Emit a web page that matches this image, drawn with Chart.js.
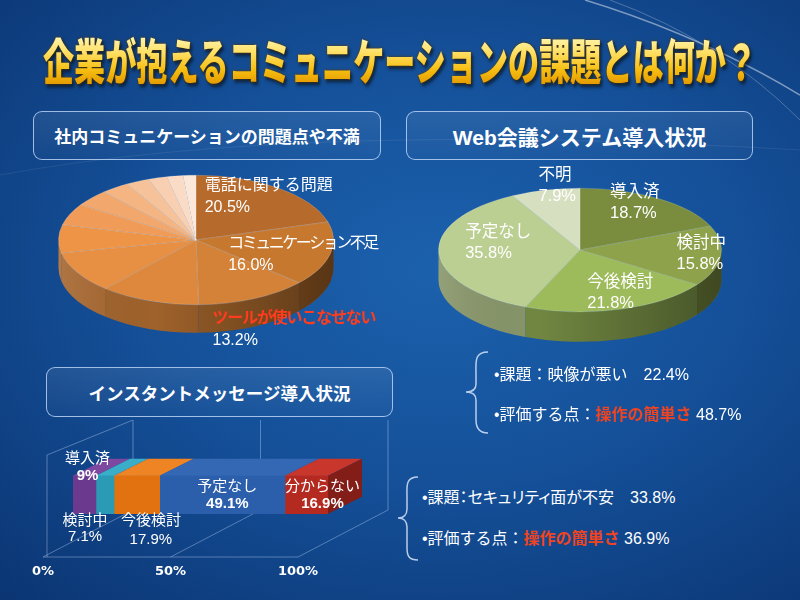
<!DOCTYPE html>
<html lang="ja">
<head>
<meta charset="utf-8">
<script src="https://cdn.jsdelivr.net/npm/chart.js@4.4.0/dist/chart.umd.min.js"></script>
<style>
html, body { margin: 0; padding: 0; }
body {
    width: 800px; height: 600px; overflow: hidden; position: relative;
    background: radial-gradient(ellipse 80% 75% at 55% 45%, #1c61ad 0%, #15519a 45%, #0b3573 100%);
    font-family: "Liberation Sans", "Noto Sans CJK JP", sans-serif;
    color: #fff;
}
.deco { position: absolute; left: 0; top: 0; }
.title {
    position: absolute; left: 0; top: 35px; width: 800px; text-align: center; white-space: nowrap;
    font-family: "Noto Sans CJK JP"; font-weight: 900; font-size: 34px; line-height: 1;
    transform: scale(0.915, 1.45); transform-origin: 50% 0;
}
.title span {
    display: inline-block;
    background: linear-gradient(#fff8b8 0%, #ffe066 35%, #f7bf12 70%, #e49a00 100%);
    -webkit-background-clip: text; background-clip: text; color: transparent;
    filter: drop-shadow(0 0 1px #5a3a00) drop-shadow(2px 2px 1px rgba(0, 0, 0, 0.55));
}
.box {
    position: absolute;
    border: 1.5px solid rgba(195, 218, 250, 0.8); border-radius: 9px;
    background: linear-gradient(rgba(255, 255, 255, 0.08), rgba(255, 255, 255, 0.02));
    display: flex; align-items: center; justify-content: center;
    font-weight: bold; box-sizing: border-box; white-space: nowrap;
}
.cv { position: absolute; }
.note { position: absolute; font-size: 16px; white-space: nowrap; }
.note.tight { font-feature-settings: "palt"; }
.note b { color: #ef4422; }
</style>
</head>
<body>

<svg class="deco" width="800" height="600">
    <path d="M585,0 Q700,35 800,95" stroke="rgba(255,255,255,0.45)" stroke-width="1.5" fill="none"/>
    <path d="M610,0 Q720,40 800,120" stroke="rgba(255,255,255,0.25)" stroke-width="1" fill="none"/>
    <path d="M0,175 Q300,120 800,150" stroke="rgba(255,255,255,0.08)" stroke-width="1" fill="none"/>
    <path d="M488,352 C474,352 476,362 476,374 L476,384 C476,389 473,392 466,392 C473,392 476,395 476,400 L476,420 C476,428 479,433 488,433"
          stroke="rgba(215,228,250,0.85)" stroke-width="1.5" fill="none"/>
    <path d="M418,477 C405,477 407,487 407,498 L407,509 C407,514 404,518 398,518 C404,518 407,522 407,527 L407,548 C407,556 409,560 418,560"
          stroke="rgba(215,228,250,0.85)" stroke-width="1.5" fill="none"/>
</svg>

<div class="title"><span>企業が抱えるコミュニケーションの課題とは何か？</span></div>

<div class="box" style="left:33px; top:111px; width:348px; height:49px; font-size:17px;">社内コミュニケーションの問題点や不満</div>
<div class="box" style="left:406px; top:111px; width:347px; height:49px; font-size:21px;">Web会議システム導入状況</div>
<div class="box" style="left:46px; top:367px; width:347px; height:50px; font-size:17.5px;">インスタントメッセージ導入状況</div>

<canvas id="issuePie" class="cv" width="430" height="300" style="left:0px; top:90px;"></canvas>
<canvas id="webPie" class="cv" width="400" height="300" style="left:400px; top:100px;"></canvas>
<canvas id="imBar" class="cv" width="400" height="170" style="left:0px; top:420px;"></canvas>

<div class="note" style="left:494px; top:361px;">•課題：映像が悪い　22.4%</div>
<div class="note" style="left:494px; top:401px;">•評価する点：<b>操作の簡単さ</b> 48.7%</div>
<div class="note tight" style="left:422px; top:484px;">•課題：セキュリティ面が不安　33.8%</div>
<div class="note" style="left:422px; top:525px;">•評価する点：<b>操作の簡単さ</b> 36.9%</div>

<script>
// 社内コミュニケーションの問題点や不満
var issueLabels = ['電話に関する問題', 'コミュニケーション不足', 'ツールが使いこなせない', '', '', '', '', '', '', '', '', '', ''];
var issueValues = [20.5, 16.0, 13.2, 11.8, 10.3, 7.0, 5.4, 4.1, 3.3, 2.8, 2.2, 1.9, 1.5];
var issueColors = ['#b66a2c', '#c6782f', '#d38238', '#dd883c', '#e78f42', '#ee9447', '#f09c58', '#f2a86c',
                   '#f4b583', '#f6c29a', '#f8cfb0', '#fadcc6', '#fce8da'];

// Web会議システム導入状況
var webLabels = ['導入済', '検討中', '今後検討', '予定なし', '不明'];
var webValues = [18.7, 15.8, 21.8, 35.8, 7.9];
var webColors = ['#7a8d3e', '#8ea24b', '#9dbb5a', '#bccf92', '#d6e0c0'];

// インスタントメッセージ導入状況
var imLabels = ['導入済', '検討中', '今後検討', '予定なし', '分からない'];
var imValues = [9, 7.1, 17.9, 49.1, 16.9];
var imTicks = [0, 50, 100];
var imColors = ['#6b3a8e', '#2a9ab5', '#e1720f', '#2c5fab', '#b52a20'];
var imTopColors = ['#7d48a0', '#3aaec8', '#ee8424', '#3568b4', '#c8362c'];

var CJK = '"Liberation Sans", "Noto Sans CJK JP", sans-serif';

function shade(hex, f) {
    var n = parseInt(hex.slice(1), 16);
    var r = Math.round(((n >> 16) & 255) * f), g = Math.round(((n >> 8) & 255) * f), b = Math.round((n & 255) * f);
    return 'rgb(' + r + ',' + g + ',' + b + ')';
}

// 立体円グラフ
var pie3d = {
    id: 'pie3d',
    beforeDatasetsDraw: function (chart, args, o) {
        var ctx = chart.ctx;
        var arcs = chart.getDatasetMeta(0).data;
        var cx = arcs[0].x, cy = arcs[0].y, r = arcs[0].outerRadius;
        var dep = o.depth / o.tilt;
        var colors = chart.data.datasets[0].backgroundColor;
        ctx.save();
        ctx.translate(cx, cy);
        ctx.scale(1, o.tilt);
        ctx.translate(-cx, -cy);
        arcs.forEach(function (a, i) {
            var s = Math.max(a.startAngle, 0), e = Math.min(a.endAngle, Math.PI);
            if (s >= e) return;
            ctx.beginPath();
            ctx.arc(cx, cy, r, s, e);
            ctx.arc(cx, cy + dep, r, e, s, true);
            ctx.closePath();
            ctx.fillStyle = shade(colors[i], 0.72);
            ctx.fill();
        });
        // 側面の陰影
        var g = ctx.createLinearGradient(cx - r, 0, cx + r, 0);
        g.addColorStop(0, 'rgba(255,255,255,0.10)');
        g.addColorStop(0.35, 'rgba(0,0,0,0)');
        g.addColorStop(1, 'rgba(0,0,0,0.38)');
        ctx.beginPath();
        ctx.arc(cx, cy, r, 0, Math.PI);
        ctx.arc(cx, cy + dep, r, Math.PI, 0, true);
        ctx.closePath();
        ctx.fillStyle = g;
        ctx.fill();
    },
    afterDatasetsDraw: function (chart, args, o) {
        var ctx = chart.ctx;
        ctx.restore();
        var arcs = chart.getDatasetMeta(0).data;
        var labels = chart.data.labels, vals = chart.data.datasets[0].data;
        ctx.textAlign = 'left';
        ctx.textBaseline = 'middle';
        arcs.forEach(function (a, i) {
            if (!labels[i]) return;
            var mid = (a.startAngle + a.endAngle) / 2;
            var px = a.x + Math.cos(mid) * a.outerRadius * o.anchor;
            var py = a.y + Math.sin(mid) * a.outerRadius * o.anchor * o.tilt;
            var off = o.offsets[i];
            var red = o.redIndex === i;
            ctx.font = (red ? 'bold ' : '') + o.fontSize + 'px ' + CJK;
            ctx.fillStyle = red ? '#ff3c1e' : '#ffffff';
            ctx.letterSpacing = (off[2] || 0) + 'px';
            ctx.fillText(labels[i], px + off[0], py + off[1]);
            ctx.letterSpacing = '0px';
            ctx.font = o.fontSize + 'px ' + CJK;
            ctx.fillStyle = '#ffffff';
            ctx.fillText(vals[i].toFixed(1) + '%', px + off[0], py + off[1] + o.lineGap);
        });
    }
};

function makePie(id, labels, values, colors, opts, pad) {
    return new Chart(document.getElementById(id), {
        type: 'pie',
        data: {
            labels: labels,
            datasets: [{
                data: values,
                backgroundColor: colors,
                borderColor: 'rgba(255,255,255,0.22)',
                borderWidth: 1
            }]
        },
        options: {
            responsive: false,
            animation: false,
            events: [],
            layout: { padding: pad },
            plugins: {
                legend: { display: false },
                tooltip: { enabled: false },
                pie3d: opts
            }
        },
        plugins: [pie3d]
    });
}

makePie('issuePie', issueLabels, issueValues, issueColors, {
    tilt: 0.471, depth: 28, anchor: 0.65, fontSize: 16, lineGap: 22, redIndex: 2,
    offsets: [[-45, -21, 0], [-55, -6, -2.5], [-21, 40, -1.2]]
}, { left: 58, right: 96, top: 12, bottom: 12 });

makePie('webPie', webLabels, webValues, webColors, {
    tilt: 0.437, depth: 30, anchor: 0.65, fontSize: 16.5, lineGap: 21, redIndex: -1,
    offsets: [[-21, -24], [5, -11], [-19, -6], [-23, -20], [-19, -36]]
}, { left: 38, right: 78, top: 8, bottom: 8 });

// 立体横棒グラフ
var bar3d = {
    id: 'bar3d',
    beforeDatasetsDraw: function (chart, args, o) {
        var ctx = chart.ctx, xs = chart.scales.x;
        ctx.save();
        ctx.strokeStyle = 'rgba(200,220,255,0.38)';
        ctx.lineWidth = 1;
        imTicks.forEach(function (v) {
            var fx = xs.getPixelForValue(v) + o.floorShift;
            var bx = xs.getPixelForValue(v) + o.wallShift;
            ctx.beginPath();
            ctx.moveTo(fx, o.floorY);
            ctx.lineTo(bx, o.wallBottom);
            ctx.lineTo(bx, 0);
            ctx.stroke();
        });
        var f0 = xs.getPixelForValue(0) + o.floorShift, f1 = xs.getPixelForValue(100) + o.floorShift;
        var b0 = xs.getPixelForValue(0) + o.wallShift;
        ctx.beginPath();
        ctx.moveTo(f0, o.floorY); ctx.lineTo(f1, o.floorY);
        ctx.moveTo(f0 + 4, o.floorY); ctx.lineTo(f0 + 4, o.leftTop);
        ctx.lineTo(b0, 0);
        ctx.stroke();
        ctx.restore();
    },
    afterDatasetsDraw: function (chart, args, o) {
        var ctx = chart.ctx;
        var n = chart.data.datasets.length;
        chart.data.datasets.forEach(function (ds, i) {
            var el = chart.getDatasetMeta(i).data[0];
            var p = el.getProps(['x', 'y', 'base', 'height'], true);
            var l = Math.min(p.x, p.base), rr = Math.max(p.x, p.base);
            var top = p.y - p.height / 2, bot = p.y + p.height / 2;
            ctx.beginPath();
            ctx.moveTo(l, top); ctx.lineTo(rr, top);
            ctx.lineTo(rr + o.dx, top - o.dy); ctx.lineTo(l + o.dx, top - o.dy);
            ctx.closePath();
            ctx.fillStyle = o.topColors[i];
            ctx.fill();
            if (i === n - 1) {
                ctx.beginPath();
                ctx.moveTo(rr, top); ctx.lineTo(rr + o.dx, top - o.dy);
                ctx.lineTo(rr + o.dx, bot - o.dy); ctx.lineTo(rr, bot);
                ctx.closePath();
                ctx.fillStyle = shade(imColors[i], 0.72);
                ctx.fill();
            }
        });
        ctx.textAlign = 'center';
        ctx.textBaseline = 'middle';
        chart.data.datasets.forEach(function (ds, i) {
            var el = chart.getDatasetMeta(i).data[0];
            var p = el.getProps(['x', 'y', 'base'], true);
            var cx = (p.x + p.base) / 2;
            var off = o.offsets[i];
            ctx.font = o.fontSize + 'px ' + CJK;
            ctx.fillStyle = '#ffffff';
            ctx.fillText(ds.label, cx + off[0], p.y + off[1]);
            ctx.font = (o.boldValue[i] ? 'bold ' : '') + o.fontSize + 'px ' + CJK;
            ctx.fillText(String(ds.data[0]) + '%', cx + off[0], p.y + off[1] + off[2]);
        });
    }
};

new Chart(document.getElementById('imBar'), {
    type: 'bar',
    data: {
        labels: [''],
        datasets: imLabels.map(function (name, i) {
            return {
                label: name,
                data: [imValues[i]],
                backgroundColor: imColors[i],
                borderWidth: 0,
                barThickness: 38
            };
        })
    },
    options: {
        indexAxis: 'y',
        responsive: false,
        animation: false,
        events: [],
        layout: { padding: { left: 73, right: 72, top: 10, bottom: 7 } },
        scales: {
            x: {
                stacked: true,
                min: 0,
                max: 100,
                afterBuildTicks: function (axis) {
                    axis.ticks = imTicks.map(function (v) { return { value: v }; });
                },
                ticks: {
                    callback: function (v) { return v + '%'; },
                    color: '#ffffff',
                    font: { family: 'DejaVu Sans', weight: 'bold', size: 13 },
                    labelOffset: -30,
                    padding: 4,
                    maxRotation: 0
                },
                grid: { display: false, drawTicks: false },
                border: { display: false }
            },
            y: {
                stacked: true,
                display: false
            }
        },
        plugins: {
            legend: { display: false },
            tooltip: { enabled: false },
            bar3d: {
                dx: 34, dy: 17,
                topColors: imTopColors,
                floorShift: -30, wallShift: 60,
                floorY: 137, wallBottom: 90, leftTop: 35,
                fontSize: 15,
                boldValue: [true, false, false, true, true],
                offsets: [[3, -36, 17], [-20, 26, 16], [14, 26, 19], [5, -8, 17], [16, -8, 17]]
            }
        }
    },
    plugins: [bar3d]
});
</script>
</body>
</html>
